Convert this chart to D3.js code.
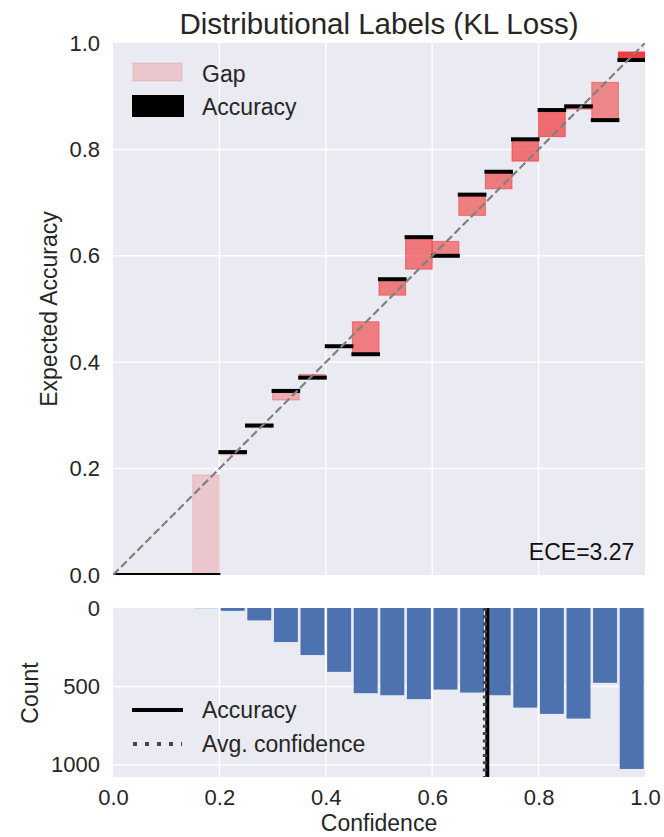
<!DOCTYPE html>
<html>
<head>
<meta charset="utf-8">
<script src="https://cdn.jsdelivr.net/npm/d3@7"></script>
<style>
  body { margin: 0; background: #fff; }
  text { font-family: "Liberation Sans", Arial, sans-serif; fill: #262626; }
</style>
</head>
<body>
<script>
// bins of width 0.05 (lower edge of each bin)
const binLower = [0.00, 0.05, 0.10, 0.15, 0.20, 0.25, 0.30, 0.35, 0.40, 0.45,
                  0.50, 0.55, 0.60, 0.65, 0.70, 0.75, 0.80, 0.85, 0.90, 0.95];
const binWidth = 0.05;
// accuracy and avg confidence per bin
const accuracy = [0, 0, 0, 0, 0.231, 0.281, 0.346, 0.371, 0.430, 0.415,
                  0.556, 0.635, 0.600, 0.715, 0.758, 0.819, 0.874, 0.881, 0.855, 0.968];
const confidence = [0, 0, 0, 0.188, 0.226, 0.277, 0.329, 0.377, 0.428, 0.476,
                    0.526, 0.575, 0.627, 0.676, 0.726, 0.778, 0.824, 0.876, 0.926, 0.983];
const counts = [0, 0, 0, 1, 18, 79, 217, 300, 407, 543,
                556, 581, 520, 539, 556, 635, 675, 705, 477, 1026];
const avgAcc = 0.7035;
const avgConf = 0.699;
const ece = 3.27;
const xTicks = [0, 0.2, 0.4, 0.6, 0.8, 1.0];
const yTicks = [0, 0.2, 0.4, 0.6, 0.8, 1.0];
const countTicks = [0, 500, 1000];

const W = 664, H = 837;
const left = 113, right = 645;
const bg = "#EAEAF2";

const svg = d3.select("body").append("svg")
    .attr("width", W).attr("height", H);

const bins = binLower.map((b, i) => ({
  lo: b, acc: accuracy[i], conf: confidence[i], n: counts[i]
}));
const maxCount = d3.max(counts);
const alpha = d => 0.2 + 0.8 * d.n / maxCount;

let x = d3.scaleLinear().domain([0, 1]).range([left, right]);

// ---------- top: reliability diagram ----------
let y = d3.scaleLinear().domain([0, 1]).range([575, 43]);
const topG = svg.append("g");
topG.append("rect").attr("x", left).attr("y", 43)
   .attr("width", right - left).attr("height", 575 - 43).attr("fill", bg);
topG.append("clipPath").attr("id", "clipTop").append("rect")
   .attr("x", left).attr("y", 43).attr("width", right - left).attr("height", 575 - 43);

topG.selectAll(".gx").data(xTicks.slice(1, -1)).join("line")
   .attr("x1", d => x(d)).attr("x2", d => x(d)).attr("y1", 43).attr("y2", 575)
   .attr("stroke", "#fff").attr("stroke-width", 1.5);
topG.selectAll(".gy").data(yTicks.slice(1, -1)).join("line")
   .attr("y1", d => y(d)).attr("y2", d => y(d)).attr("x1", left).attr("x2", right)
   .attr("stroke", "#fff").attr("stroke-width", 1.5);

const plot = topG.append("g").attr("clip-path", "url(#clipTop)");
// gap bars
plot.selectAll(".gap").data(bins).join("rect")
   .attr("x", d => x(d.lo)).attr("width", x(binWidth) - x(0))
   .attr("y", d => y(Math.max(d.acc, d.conf)))
   .attr("height", d => Math.abs(y(d.acc) - y(d.conf)))
   .attr("fill", d => `rgba(240,60,60,${alpha(d)})`)
   .attr("stroke", d => `rgba(240,60,60,${alpha(d)})`).attr("stroke-width", 1);
// accuracy bars
plot.selectAll(".acc").data(bins).join("line")
   .attr("x1", d => x(d.lo) - 1).attr("x2", d => x(d.lo + binWidth) + 1)
   .attr("y1", d => y(d.acc)).attr("y2", d => y(d.acc))
   .attr("stroke", "#000").attr("stroke-width", 4);
// diagonal
plot.append("line")
   .attr("x1", x(0)).attr("y1", y(0)).attr("x2", x(1)).attr("y2", y(1))
   .attr("stroke", "gray").attr("stroke-width", 2.2).attr("stroke-dasharray", "8,3.5");

topG.append("g").attr("transform", `translate(${left},0)`)
   .call(d3.axisLeft(y).tickValues(yTicks).tickFormat(d3.format(".1f")).tickSize(0).tickPadding(13))
   .call(g => g.select(".domain").remove())
   .selectAll("text").style("font-size", "22px").attr("fill", "#262626");

topG.append("text").attr("x", x(0.98)).attr("y", 560)
   .attr("text-anchor", "end").style("font-size", "23px").style("fill", "#111")
   .text("ECE=" + ece.toFixed(2));

svg.append("text").attr("x", (left + right) / 2).attr("y", 34)
   .attr("text-anchor", "middle").style("font-size", "29.5px")
   .text("Distributional Labels (KL Loss)");
svg.append("text").attr("transform", "translate(57,309) rotate(-90)")
   .attr("text-anchor", "middle").style("font-size", "23px")
   .text("Expected Accuracy");

// legend (top)
const leg1 = svg.append("g");
leg1.append("rect").attr("x", 133).attr("y", 63).attr("width", 49).attr("height", 18)
   .attr("fill", `rgba(240,60,60,${alpha(bins[0])})`)
   .attr("stroke", `rgba(240,60,60,${alpha(bins[0])})`);
leg1.append("rect").attr("x", 134).attr("y", 97).attr("width", 48).attr("height", 18)
   .attr("fill", "#000").attr("stroke", "#000").attr("stroke-width", 4);
leg1.append("text").attr("x", 202).attr("y", 81.5).style("font-size", "23px").text("Gap");
leg1.append("text").attr("x", 202).attr("y", 115).style("font-size", "23px").text("Accuracy");

// ---------- bottom: count histogram (inverted) ----------
let yc = d3.scaleLinear().domain([0, maxCount * 1.05]).range([608, 777]);
const botG = svg.append("g");
botG.append("rect").attr("x", left).attr("y", 608)
   .attr("width", right - left).attr("height", 777 - 608).attr("fill", bg);
botG.selectAll(".gx").data(xTicks.slice(1, -1)).join("line")
   .attr("x1", d => x(d)).attr("x2", d => x(d)).attr("y1", 608).attr("y2", 777)
   .attr("stroke", "#fff").attr("stroke-width", 1.5);
botG.selectAll(".gy").data(countTicks.slice(1)).join("line")
   .attr("y1", d => yc(d)).attr("y2", d => yc(d)).attr("x1", left).attr("x2", right)
   .attr("stroke", "#fff").attr("stroke-width", 1.5);

botG.selectAll(".bar").data(bins).join("rect")
   .attr("x", d => x(d.lo + binWidth * 0.05)).attr("width", x(binWidth * 0.9) - x(0))
   .attr("y", yc(0)).attr("height", d => yc(d.n) - yc(0))
   .attr("fill", "#4C72B0");

botG.append("line").attr("x1", x(avgAcc)).attr("x2", x(avgAcc)).attr("y1", 608).attr("y2", 777)
   .attr("stroke", "#000").attr("stroke-width", 4);
botG.append("line").attr("x1", x(avgConf)).attr("x2", x(avgConf)).attr("y1", 608).attr("y2", 777)
   .attr("stroke", "#444").attr("stroke-width", 4).attr("stroke-dasharray", "3,4.3");

botG.append("g").attr("transform", `translate(${left},0)`)
   .call(d3.axisLeft(yc).tickValues(countTicks).tickFormat(d3.format("d")).tickSize(0).tickPadding(13))
   .call(g => g.select(".domain").remove())
   .selectAll("text").style("font-size", "22px").attr("fill", "#262626");
botG.append("g").attr("transform", "translate(0,777)")
   .call(d3.axisBottom(x).tickValues(xTicks).tickFormat(d3.format(".1f")).tickSize(0).tickPadding(12))
   .call(g => g.select(".domain").remove())
   .selectAll("text").style("font-size", "22px").attr("fill", "#262626");

svg.append("text").attr("x", (left + right) / 2).attr("y", 831)
   .attr("text-anchor", "middle").style("font-size", "23px").text("Confidence");
svg.append("text").attr("transform", "translate(38,693) rotate(-90)")
   .attr("text-anchor", "middle").style("font-size", "23px").text("Count");

// legend (bottom)
const leg2 = svg.append("g");
leg2.append("line").attr("x1", 132).attr("x2", 183).attr("y1", 710).attr("y2", 710)
   .attr("stroke", "#000").attr("stroke-width", 4);
leg2.append("line").attr("x1", 133).attr("x2", 182).attr("y1", 744).attr("y2", 744)
   .attr("stroke", "#444").attr("stroke-width", 4).attr("stroke-dasharray", "4,8");
leg2.append("text").attr("x", 202).attr("y", 718).style("font-size", "23px").text("Accuracy");
leg2.append("text").attr("x", 202).attr("y", 752).style("font-size", "23px").text("Avg. confidence");
</script>
</body>
</html>
